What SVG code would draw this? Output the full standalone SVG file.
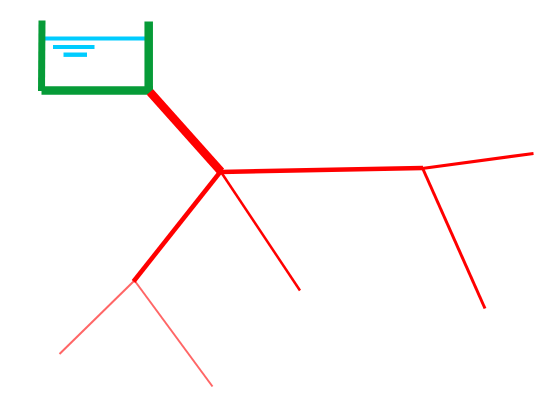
<svg xmlns="http://www.w3.org/2000/svg" width="555" height="408" viewBox="0 0 555 408">
<style>
.pipe{stroke:#ff0000;fill:none;stroke-linecap:butt}
.tank{stroke:#069b37;fill:none}
.water{stroke:#00ccff;fill:none}
</style>
<rect width="555" height="408" fill="#ffffff"/>
<g id="tank">
<line class="water" x1="45" y1="38.500" x2="146" y2="38.500" stroke-width="4.200"/>
<line class="water" x1="53" y1="47" x2="94.500" y2="47" stroke-width="3.800"/>
<line class="water" x1="63.500" y1="54.700" x2="87" y2="54.700" stroke-width="4.400"/>
<line class="tank" x1="42" y1="20.500" x2="41.500" y2="91" stroke-width="7"/>
<line class="tank" x1="148.700" y1="21.500" x2="148.700" y2="94" stroke-width="8.500"/>
<line class="tank" x1="41.500" y1="90.500" x2="153" y2="90.500" stroke-width="8.500"/>
</g>
<g id="connectors">
<line class="pipe" x1="150" y1="92" x2="221" y2="171.500" stroke-width="8.500"/>
<line class="pipe" x1="220" y1="172" x2="423" y2="168" stroke-width="4.500"/>
<line class="pipe" x1="422" y1="168.500" x2="533.500" y2="153.500" stroke-width="3.200"/>
<line class="pipe" x1="422.500" y1="168" x2="485" y2="308.500" stroke-width="3"/>
<line class="pipe" x1="221" y1="171" x2="133.500" y2="281.500" stroke-width="4.500"/>
<line class="pipe" x1="221" y1="172" x2="300" y2="290.500" stroke-width="2.500"/>
<line class="pipe" stroke-opacity="0.600" x1="134.500" y1="280.500" x2="59.500" y2="354" stroke-width="2"/>
<line class="pipe" stroke-opacity="0.600" x1="134.500" y1="280.500" x2="212.500" y2="386.500" stroke-width="2"/>
</g>
</svg>
